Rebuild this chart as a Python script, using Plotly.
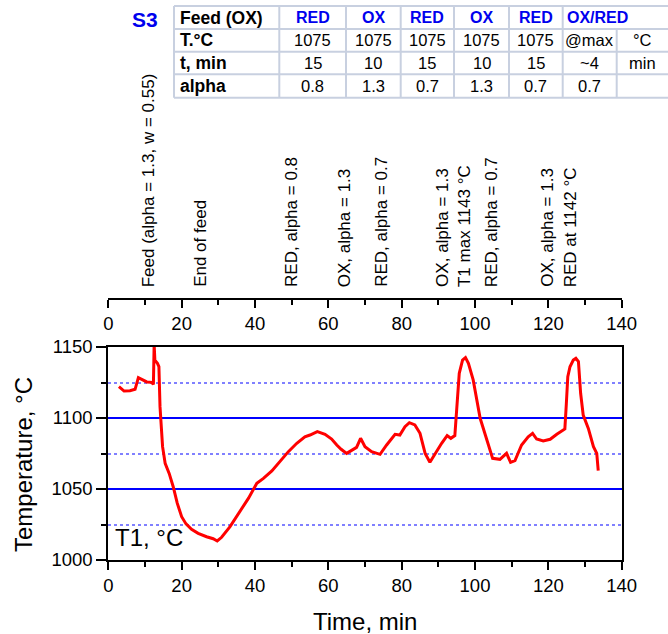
import plotly.graph_objects as go

W, H = 668, 634

# ---------------- data ----------------
time_min = [2.9, 4.3, 5.9, 7.3, 8.2, 9.1, 10.5, 11.8, 12.3, 12.5, 12.7, 13.4, 13.8, 14.1, 14.4,
            14.8, 15.5, 16.6, 17.7, 18.8, 20.0, 21.2, 22.7, 24.5, 26.8, 28.6, 29.7, 30.9, 33.2,
            35.9, 38.2, 40.5, 42.3, 44.6, 46.8, 49.1, 51.4, 53.6, 55.0, 57.0, 59.1, 60.9, 62.3,
            63.5, 65.0, 66.4, 67.7, 68.8, 70.0, 71.8, 74.1, 75.9, 78.2, 79.5, 80.9, 82.1, 83.6,
            85.0, 86.4, 87.7, 89.1, 90.9, 92.4, 93.4, 94.5, 95.0, 95.7, 96.6, 97.4, 98.2, 99.5,
            101.4, 103.2, 104.8, 106.8, 108.6, 109.7, 110.9, 112.7, 114.5, 115.7, 116.8, 118.6,
            120.5, 122.3, 124.5, 124.9, 125.3, 125.9, 126.8, 127.5, 128.2, 128.8, 129.5, 130.9,
            132.3, 133.2, 133.6]
t1_c = [1122.1, 1119.0, 1119.2, 1120.2, 1128.4, 1127.2, 1125.4, 1125.1, 1123.7, 1152.0, 1140.8,
        1138.5, 1136.2, 1108.0, 1098.6, 1079.8, 1068.1, 1061.0, 1051.6, 1040.0, 1030.5, 1025.4,
        1021.6, 1018.8, 1016.4, 1015.0, 1013.4, 1016.0, 1023.5, 1034.0, 1043.4, 1054.0, 1057.5,
        1062.7, 1069.2, 1076.3, 1082.2, 1086.8, 1088.0, 1090.4, 1088.5, 1085.2, 1081.0, 1078.0,
        1075.1, 1077.5, 1079.3, 1085.7, 1079.8, 1076.3, 1074.4, 1081.0, 1088.5, 1088.0, 1093.9,
        1096.7, 1095.1, 1089.2, 1075.1, 1068.8, 1075.1, 1082.2, 1087.6, 1085.7, 1087.6, 1108.0,
        1131.5, 1140.8, 1142.5, 1138.5, 1126.8, 1099.8, 1084.5, 1071.6, 1070.9, 1075.1, 1068.8,
        1070.0, 1081.0, 1086.8, 1089.2, 1085.2, 1083.8, 1085.0, 1088.5, 1092.3, 1110.0, 1129.1,
        1136.1, 1140.8, 1142.0, 1139.7, 1117.4, 1102.1, 1092.7, 1079.8, 1075.1, 1062.9]

event_times = [10.9, 25.1, 49.8, 64.5, 74.3, 91.1, 97.0, 104.4, 119.7, 126.0]
event_labels = ["Feed (alpha = 1.3, w = 0.55)", "End of feed", "RED, alpha = 0.8",
                "OX, alpha = 1.3", "RED, alpha = 0.7", "OX, alpha = 1.3", "T1 max 1143 °C",
                "RED, alpha = 0.7", "OX, alpha = 1.3", "RED at 1142 °C"]

table_title = "S3"
table_header = ["Feed (OX)", "RED", "OX", "RED", "OX", "RED", "OX/RED", ""]
row_temp = ["T.°C", "1075", "1075", "1075", "1075", "1075", "@max", "°C"]
row_time = ["t, min", "15", "10", "15", "10", "15", "~4", "min"]
row_alpha = ["alpha", "0.8", "1.3", "0.7", "1.3", "0.7", "0.7", ""]

x_ticks = [0, 20, 40, 60, 80, 100, 120, 140]
y_ticks = [1000, 1050, 1100, 1150]

# ---------------- layout helpers ----------------
def px(x):
    return x / W

def py(y):
    return 1 - y / H

FONT = "Arial, Liberation Sans, sans-serif"
BLUE = "#0000ee"

fig = go.Figure()
fig.add_trace(go.Scatter(x=time_min, y=t1_c, mode="lines",
                         line=dict(color="#ff0000", width=3),
                         showlegend=False, hoverinfo="skip"))
fig.add_trace(go.Scatter(x=[0, 140], y=[None, None], xaxis="x2", yaxis="y",
                         mode="lines", showlegend=False, hoverinfo="skip"))

xdom = [px(108.3), px(621.7)]
ydom = [py(560), py(347)]

fig.update_layout(
    width=W, height=H,
    margin=dict(l=0, r=0, t=0, b=0, autoexpand=False),
    paper_bgcolor="white", plot_bgcolor="white",
    font=dict(family=FONT, color="black"),
    xaxis=dict(domain=xdom, range=[0, 140], tickvals=x_ticks, showgrid=False, zeroline=False,
               automargin=False,
               showline=True, linecolor="black", linewidth=2, mirror=True,
               ticks="outside", ticklen=8, tickwidth=1.5, tickcolor="black",
               minor=dict(dtick=10, tick0=0, ticks="outside", ticklen=5, tickwidth=1.5,
                          tickcolor="black", showgrid=False),
               tickfont=dict(size=18.5, family=FONT)),
    xaxis2=dict(overlaying="x", anchor="free", position=py(299), side="bottom",
                automargin=False,
                range=[0, 140], tickvals=x_ticks, showgrid=False, zeroline=False,
                showline=True, linecolor="black", linewidth=2,
                ticks="outside", ticklen=8, tickwidth=1.5, tickcolor="black",
                minor=dict(dtick=10, tick0=0, ticks="outside", ticklen=5, tickwidth=1.5,
                           tickcolor="black", showgrid=False),
                tickfont=dict(size=18.5, family=FONT)),
    yaxis=dict(domain=ydom, range=[1000, 1150], tickvals=y_ticks, zeroline=False,
               automargin=False,
               showgrid=True, gridcolor="#0000ff", gridwidth=1.5,
               showline=True, linecolor="black", linewidth=2, mirror=True,
               ticks="outside", ticklen=10, tickwidth=1.5, tickcolor="black",
               minor=dict(dtick=25, tick0=1000, ticks="outside", ticklen=5, tickwidth=1.5,
                          tickcolor="black", showgrid=True, gridcolor="#8080ff",
                          gridwidth=1.5, griddash="dot"),
               tickfont=dict(size=18.5, family=FONT)),
)

ann = []
# axis titles
ann.append(dict(text="Time, min", x=px(365), y=py(621), xref="paper", yref="paper",
                showarrow=False, font=dict(size=24, family=FONT), xanchor="center", yanchor="middle"))
ann.append(dict(text="Temperature, °C", x=px(23), y=py(465), xref="paper", yref="paper",
                showarrow=False, textangle=-90, font=dict(size=24, family=FONT),
                xanchor="center", yanchor="middle"))
ann.append(dict(text="T1, °C", x=px(113), y=py(537), xref="paper", yref="paper",
                showarrow=False, font=dict(size=24, family=FONT), xanchor="left", yanchor="middle"))

# event labels
for t, lab in zip(event_times, event_labels):
    ann.append(dict(text=lab, x=t, y=py(289), xref="x", yref="paper", showarrow=False,
                    textangle=-90, font=dict(size=17, family=FONT),
                    xanchor="center", yanchor="bottom"))

# table
col_edges = [174, 279.3, 346, 400.7, 454, 509, 562.7, 616.7, 668]
row_edges = [6, 29, 51.7, 74.3, 97.7]
grid_col = "#c8d0e0"
shapes = []
for yy in row_edges:
    shapes.append(dict(type="line", xref="paper", yref="paper", x0=px(174), x1=px(668),
                       y0=py(yy), y1=py(yy), line=dict(color=grid_col, width=2)))
for i, xx in enumerate(col_edges[:-1]):
    top = row_edges[1] if i == 7 else row_edges[0]
    shapes.append(dict(type="line", xref="paper", yref="paper", x0=px(xx), x1=px(xx),
                       y0=py(top), y1=py(row_edges[-1]), line=dict(color=grid_col, width=2)))
fig.update_layout(shapes=shapes)

ann.append(dict(text="<b>%s</b>" % table_title, x=px(145), y=py(19), xref="paper", yref="paper",
                showarrow=False, font=dict(size=21, family=FONT, color=BLUE),
                xanchor="center", yanchor="middle"))

rows = [table_header, row_temp, row_time, row_alpha]
for r, row in enumerate(rows):
    yc = (row_edges[r] + row_edges[r + 1]) / 2
    for c, txt in enumerate(row):
        if not txt:
            continue
        if c == 0:
            ann.append(dict(text="<b>%s</b>" % txt, x=px(178), y=py(yc), xref="paper", yref="paper",
                            showarrow=False, font=dict(size=17.5, family=FONT),
                            xanchor="left", yanchor="middle"))
        elif r == 0:
            if c == 6:
                ann.append(dict(text="<b>%s</b>" % txt, x=px(565), y=py(yc), xref="paper",
                                yref="paper", showarrow=False,
                                font=dict(size=16, family=FONT, color=BLUE),
                                xanchor="left", yanchor="middle"))
            else:
                xc = (col_edges[c] + col_edges[c + 1]) / 2
                ann.append(dict(text="<b>%s</b>" % txt, x=px(xc), y=py(yc), xref="paper",
                                yref="paper", showarrow=False,
                                font=dict(size=16, family=FONT, color=BLUE),
                                xanchor="center", yanchor="middle"))
        else:
            xc = (col_edges[c] + col_edges[c + 1]) / 2
            ann.append(dict(text=txt, x=px(xc), y=py(yc), xref="paper", yref="paper",
                            showarrow=False, font=dict(size=16.5, family=FONT),
                            xanchor="center", yanchor="middle"))

fig.update_layout(annotations=ann)
fig.write_html("out.html", config={"displayModeBar": False},
               post_script="document.body.style.margin='0px';document.body.style.padding='0px';")
